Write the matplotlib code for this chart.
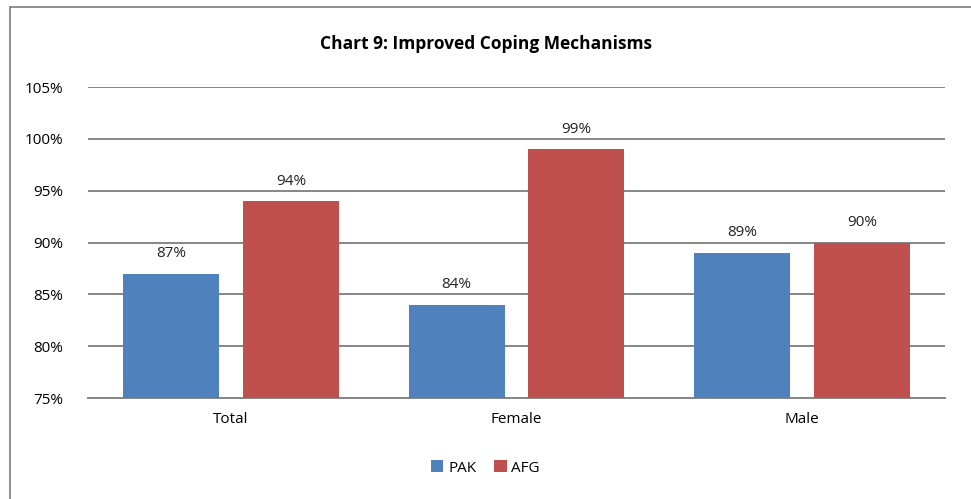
import matplotlib.pyplot as plt
import matplotlib.patches as mpatches
import numpy as np

categories = ["Total", "Female", "Male"]
pak = [87, 84, 89]
afg = [94, 99, 90]
yticks = [75, 80, 85, 90, 95, 100, 105]

plt.rcParams["font.family"] = ["Open Sans", "DejaVu Sans"]

W, H = 971, 499
fig = plt.figure(figsize=(W / 100, H / 100), dpi=100)
ax = fig.add_axes([88 / W, 1 - 398 / H, (945 - 88) / W, (398 - 87) / H])

x = np.arange(len(categories))
width = 0.336
b1 = ax.bar(x - 0.21, [v - 75 for v in pak], width, bottom=75, color="#4F81BD", label="PAK", zorder=3)
b2 = ax.bar(x + 0.21, [v - 75 for v in afg], width, bottom=75, color="#C0504D", label="AFG", zorder=3)

for bars, vals in ((b1, pak), (b2, afg)):
    for rect, v in zip(bars, vals):
        ax.text(rect.get_x() + rect.get_width() / 2, v + 1.2, f"{v}%",
                ha="center", va="bottom", fontsize=11, color="#222222")

ax.set_xlim(-0.5, 2.5)
ax.set_ylim(75, 105)
ax.set_yticks(yticks)
ax.set_yticklabels([f"{t}%" for t in yticks], fontsize=11)
ax.set_xticks(x)
ax.set_xticklabels(categories, fontsize=11)
ax.tick_params(length=0, pad=10)
ax.tick_params(axis="y", pad=18)
ax.yaxis.grid(True, color="#868686", linewidth=1.4)
ax.set_axisbelow(True)
for s in ("left", "right", "top"):
    ax.spines[s].set_visible(False)
ax.spines["bottom"].set_color("#868686")
ax.spines["bottom"].set_linewidth(1.4)

fig.text(0.5, 1 - 44 / H, "Chart 9: Improved Coping Mechanisms",
         ha="center", va="center", fontsize=12.5, fontweight="bold")

fig.legend(handles=[b1, b2], loc="center", bbox_to_anchor=(0.5, 1 - 468 / H),
           ncol=2, frameon=False, fontsize=11, handlelength=0.8, handleheight=0.8,
           handletextpad=0.3, columnspacing=1.2)

border = mpatches.Rectangle((10 / W, -0.1), 1.0, 1 - 7 / H + 0.1, transform=fig.transFigure,
                            fill=False, edgecolor="#868686", linewidth=1.3)
fig.patches.append(border)

fig.savefig("out.png", dpi=100)
